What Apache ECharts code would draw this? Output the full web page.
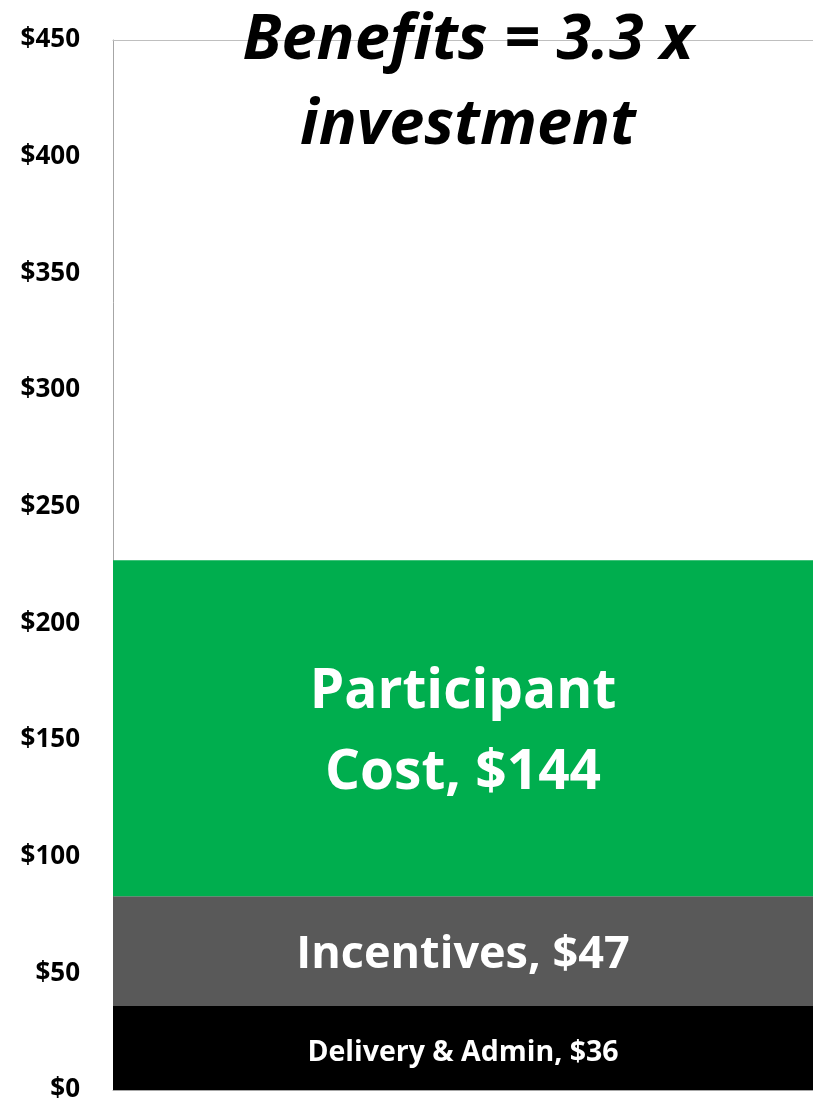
<!DOCTYPE html>
<html><head><meta charset="utf-8">
<script src="https://cdn.jsdelivr.net/npm/echarts@6/dist/echarts.min.js"></script>
<style>html,body{margin:0;padding:0;background:#fff}#c{width:813px;height:1107px}</style>
</head><body><div id="c"></div>
<script>
const categories = ['Investment'];
const seriesNames = ['Delivery & Admin', 'Incentives', 'Participant Cost'];
const deliveryAdmin = [36];
const incentives = [47];
const participantCost = [144];
const yTicks = [0, 50, 100, 150, 200, 250, 300, 350, 400, 450];
const titleText = 'Benefits = 3.3 x\ninvestment';

const FONT = '"Open Sans"';
const chart = echarts.init(document.getElementById('c'), null, {renderer: 'canvas'});
function seg(name, data, color, label) {
  return {
    name: name, type: 'bar', stack: 'total', data: data,
    barCategoryGap: 0, barGap: 0,
    itemStyle: {color: color},
    label: Object.assign({show: true, position: 'inside', color: '#fff', fontFamily: FONT, fontWeight: 'bold'}, label)
  };
}
chart.setOption({
  animation: false,
  title: {
    text: titleText, left: 463, top: -6, textAlign: 'center',
    textStyle: {fontFamily: FONT, fontWeight: 'bold', fontStyle: 'italic', fontSize: 63, lineHeight: 85, color: '#000'}
  },
  grid: {left: 113, right: 0, top: 40, bottom: 17},
  xAxis: [
    {type: 'category', data: categories, axisLine: {show: true, lineStyle: {color: '#A6A6A6', width: 1}},
     axisTick: {show: false}, axisLabel: {show: false}},
    {type: 'category', data: categories, position: 'top', axisLine: {show: true, lineStyle: {color: '#BFBFBF', width: 1}},
     axisTick: {show: false}, axisLabel: {show: false}}
  ],
  yAxis: {
    type: 'value', min: 0, max: yTicks[yTicks.length - 1], interval: 50,
    axisLine: {show: true, lineStyle: {color: '#A6A6A6', width: 1}},
    axisTick: {show: false}, splitLine: {show: false},
    axisLabel: {margin: 33, color: '#000', fontFamily: FONT, fontWeight: 'bold', fontSize: 26,
      formatter: v => '$' + v}
  },
  series: [
    seg(seriesNames[0], deliveryAdmin, '#000000', {fontSize: 28.5, offset: [0, 5], formatter: p => p.seriesName + ', $' + p.value}),
    seg(seriesNames[1], incentives, '#595959', {fontSize: 45, offset: [0, 4], formatter: p => p.seriesName + ', $' + p.value}),
    seg(seriesNames[2], participantCost, '#00AE4E', {fontSize: 55, lineHeight: 81, offset: [0, 4], formatter: p => 'Participant\nCost, $' + p.value})
  ]
});
</script></body></html>
